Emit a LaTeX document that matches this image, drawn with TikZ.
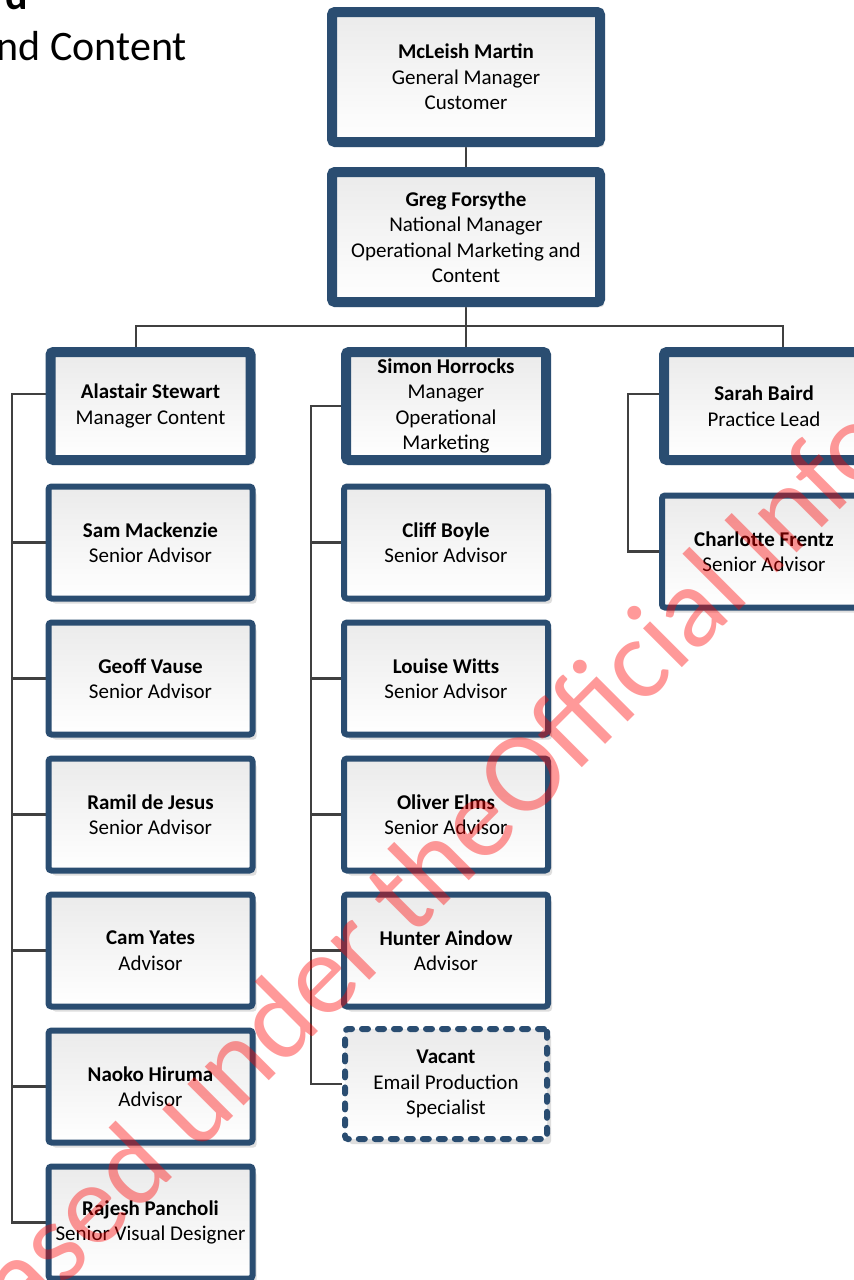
\documentclass[tikz,border=0pt]{standalone}
\usepackage{fontspec}
\setmainfont{Carlito}
\usetikzlibrary{shadows,calc}

\definecolor{boxblue}{RGB}{42,77,113}
\definecolor{linkgrey}{RGB}{64,64,64}

\pgfdeclarelayer{bg}
\pgfsetlayers{bg,main}

\tikzset{
  card/.style={rectangle, rounded corners=3pt, draw=boxblue, top color=black!8, bottom color=white,
    drop shadow={shadow xshift=4pt, shadow yshift=-5pt, fill=black!13, opacity=1},
    align=center, inner sep=2pt, font=\fontsize{21}{25.5}\selectfont},
  headbox/.style={card, line width=10pt, minimum width=268pt, minimum height=130pt},
  leadbox/.style={card, line width=10pt, minimum width=200pt, minimum height=108pt},
  staffbox/.style={card, line width=6pt, minimum width=204pt, minimum height=112pt},
  vacantbox/.style={card, line width=6pt, dash pattern=on 6pt off 10pt, line cap=round,
    minimum width=202pt, minimum height=110pt},
  link/.style={draw=linkgrey, line width=2.3pt},
  wmark/.style={rotate=45, text=red, text opacity=0.4, inner sep=0pt, font=\fontsize{115}{120}\selectfont},
}

\begin{document}
\begin{tikzpicture}[x=1pt,y=1pt,yscale=-1]
    \useasboundingbox (0,0) rectangle (854,1280);
    \clip (0,0) rectangle (854,1280);

    % heading (cut off by the page)
    \node[anchor=base east, inner sep=0pt, font=\fontsize{42}{50}\selectfont\bfseries] (title) at (28,9) {d};
    \node[anchor=base east, inner sep=0pt, font=\fontsize{42}{50}\selectfont] (subtitle) at (187,60) {and Content};

    % top of the tree
    \node[headbox] (mcleish) at (466,77) {\textbf{McLeish Martin}\\General Manager\\Customer};
    \node[headbox] (greg) at (466,237) {\textbf{Greg Forsythe}\\National Manager\\Operational Marketing and\\Content};

    % content team
    \node[leadbox] (alastair) at (150.5,406) {\textbf{Alastair Stewart}\\Manager Content};
    \node[staffbox] (sam) at (150.5,542.5) {\textbf{Sam Mackenzie}\\Senior Advisor};
    \node[staffbox] (geoff) at (150.5,678.5) {\textbf{Geoff Vause}\\Senior Advisor};
    \node[staffbox] (ramil) at (150.5,814.5) {\textbf{Ramil de Jesus}\\Senior Advisor};
    \node[staffbox] (cam) at (150.5,950.5) {\textbf{Cam Yates}\\Advisor};
    \node[staffbox] (naoko) at (150.5,1086.5) {\textbf{Naoko Hiruma}\\Advisor};
    \node[staffbox] (rajesh) at (150.5,1222.5) {\textbf{Rajesh Pancholi}\\Senior Visual Designer};

    % operational marketing team
    \node[leadbox] (simon) at (446,406) {\textbf{Simon Horrocks}\\Manager\\Operational\\Marketing};
    \node[staffbox] (cliff) at (446,542.5) {\textbf{Cliff Boyle}\\Senior Advisor};
    \node[staffbox] (louise) at (446,678.5) {\textbf{Louise Witts}\\Senior Advisor};
    \node[staffbox] (oliver) at (446,814.5) {\textbf{Oliver Elms}\\Senior Advisor};
    \node[staffbox] (hunter) at (446,950.5) {\textbf{Hunter Aindow}\\Advisor};
    \node[vacantbox] (vacant) at (446,1084) {\textbf{Vacant}\\Email Production\\Specialist};

    % practice lead
    \node[leadbox] (sarah) at (764,406) {\textbf{Sarah Baird}\\Practice Lead};
    \node[staffbox] (charlotte) at (764,551.5) {\textbf{Charlotte Frentz}\\Senior Advisor};

    % connectors behind the boxes
    \begin{pgfonlayer}{bg}
    \fill[white] (0,0) rectangle (854,1280);
    \coordinate (busL) at (136,326);
    \coordinate (busR) at (783,326);
    \coordinate (colL) at (12,0);
    \coordinate (colM) at (311,0);
    \coordinate (colR) at (628,0);
    \draw[link] (mcleish) -- (greg);
    \draw[link] (greg.south) -- (greg.south |- simon.north);
    \draw[link] (busL |- alastair.north) -- (busL) -- (busR) -- (busR |- sarah.north);
    \draw[link] ($(alastair.west)+(0,-12)$) -| (colL |- rajesh.west) -- (rajesh.west);
    \foreach \who in {sam,geoff,ramil,cam,naoko}
      \draw[link] (\who.west) -- (\who.west -| colL);
    \draw[link] (simon.west) -| (colM |- vacant.west) -- (vacant.west);
    \foreach \who in {cliff,louise,oliver,hunter}
      \draw[link] (\who.west) -- (\who.west -| colM);
    \draw[link] ($(sarah.west)+(0,-12)$) -| (colR |- charlotte.west) -- (charlotte.west);
    \end{pgfonlayer}

    % watermark
    \node[wmark, anchor=base west] (wmright) at (522,828) {Official Information Act};
    \node[wmark, anchor=base east] (wmleft) at (522,828) {Released under the\hspace{0.22em}};
\end{tikzpicture}
\end{document}
